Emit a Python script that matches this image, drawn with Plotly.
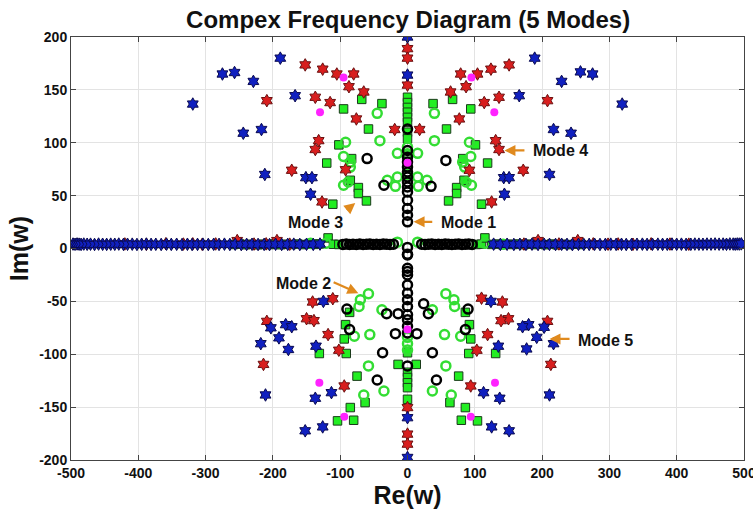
import plotly.graph_objects as go

# ---------------- data ----------------
# Mode 5 : blue hexagrams
m5_x = [-319, -275, -257, -229, -189, -167, -244, -217, -212, -151, -142, -144, 0, 0,
        189, 166, 229, 257, 275, 319, 217, 243, 211, 143, 151, 144,
        -125, -181, -172, -203, -191, -218, -177, -136, -113, -137, -211, -126, -152,
        124, 180, 171, 203, 192, 217, 177, 135, 113, 137, 211, 125, 151, 0, 0,
        -497, -494, -491, -488, -485, -481, -476, -471, -465, -459, -453, -447, -441, -435,
        -429, -422, -416, -409, -402, -395, -388, -381, -374, -366, -358, -351, -343, -335,
        -327, -320, -312, -304, -296, -288, -280, -272, -264, -256, -247, -239, -231, -222,
        -213, -205, -196, -187, -178, -169, -160, -150, -140, -130,
        128, 138, 148, 158, 167, 176, 185, 194, 203, 211, 220, 229, 237, 245,
        254, 262, 270, 278, 286, 294, 302, 310, 318, 325, 333, 341, 349, 356,
        364, 372, 379, 386, 393, 400, 407, 414, 421, 427, 433, 439, 445, 451,
        457, 463, 469, 474, 479, 484, 487, 490, 493, 496]
m5_y = [136.6, 165, 166.4, 158, 180, 144.5, 109, 112.5, 70, 67, 67, 51.3, 200, 164,
        180, 144.5, 158, 167, 165, 136.6, 112.5, 109, 70, 67, 67, 51.3,
        -50, -72, -74, -75, -84.5, -90, -95.5, -92.4, -136.3, -141.6, -138.5, -168.7, -172.4,
        -50, -72, -74, -74.5, -84, -90, -95, -92.4, -136.3, -141.6, -138.5, -168.7, -172.4, -160, -197.6,
        4.2, 4.0, 4.3, 4.1, 3.9, 4.2, 4.0, 4.1, 3.8, 4.2, 4.0, 3.9, 4.1, 4.0,
        4.2, 3.9, 4.0, 4.1, 3.8, 4.0, 4.2, 3.9, 4.0, 3.8, 4.1, 3.9, 4.0, 3.7,
        4.0, 3.8, 3.9, 4.1, 3.8, 4.0, 3.9, 4.1, 3.8, 4.0, 3.7, 3.9, 4.0, 3.8,
        3.9, 3.7, 4.0, 3.8, 3.9, 4.1, 3.8, 4.0, 3.9, 4.2,
        4.1, 3.9, 4.0, 3.8, 4.0, 3.9, 4.1, 3.8, 4.0, 3.9, 3.8, 4.0, 3.9, 3.7,
        4.0, 3.8, 3.9, 4.0, 3.8, 3.9, 4.1, 3.9, 4.0, 3.8, 3.9, 4.0, 4.1, 3.9,
        4.0, 4.1, 3.9, 4.0, 4.2, 4.0, 4.1, 3.9, 4.0, 4.2, 4.1, 4.0, 4.2, 4.1,
        4.3, 4.1, 4.2, 4.0, 4.3, 4.2, 4.1, 4.3, 4.2, 4.4]

# Mode 4 : red hexagrams
m4_x = [-152, -126, -105, -80, -87, -65, -137, -115, -76, -19, -132, -137, -172, -92, -127, -209,
        151, 124, 104, 79, 87, 64, 136, 114, 77, 18, 131, 136, 172, 92, 125, 208,
        0, 0, 0,
        -141, -111, -150, -139, -118, -102, -94, -209, -214,
        141, 110, 150, 139, 119, 103, 94, 208, 213,
        0, 0, 0,
        -420, -388, -359, -333, -319, -305, -285, -253, -228, -210, -194, -175,
        173, 194, 225, 253, 276, 298, 313, 335, 362, 390, 418]
m4_y = [173.6, 169.6, 165, 165, 153, 148, 143, 138, 122.5, 112.5, 102, 93.6, 74, 74.5, 44, 139.8,
        173.6, 169.6, 165, 165, 153, 148, 143, 138, 122.5, 112.5, 102, 93.6, 74, 74, 44, 139.8,
        189, 180, 154.5,
        -50.6, -47.5, -66.4, -68.2, -81.4, -96.2, -130, -68.9, -109.6,
        -50.6, -47, -66.4, -68.2, -81.4, -96.2, -130, -68.9, -109.6,
        -150.4, -175.5, -185,
        4.3, 4.0, 4.5, 4.2, 4.4, 4.0, 4.3, 7.5, 4.2, 4.4, 7.5, 4.1,
        4.2, 7.5, 4.3, 7.5, 4.4, 4.1, 4.3, 4.0, 4.4, 4.2, 4.1]

# Mode 3 : green squares
m3_x = [-68, -38, -95, -58, -102, -83, -120, -85, -73, -73, -61, -111,
        38, 67, 94, 58, 101, 82, 119, 84, 73, 73, 61, 110,
        0, 0, 0, 0, 0, 0, 0, 0,
        -86, -92, -94, -131, -91, -14, -75, -63, -85, -104, -80,
        86, 92, 94, 91, 131, 13, 76, 63, 86, 80, 104,
        0, 0, 0, 0, 0, 0,
        -258, -249, -240, -231, -222, -214, -205, -197, -188, -180, -172, -163,
        -155, -147, -139, -131, -118, -110, -102,
        102, 110, 115, 125, 133, 141, 149, 157, 165, 173, 181, 189, 197,
        205, 214, 222, 231, 240, 249, 258]
m3_y = [141, 137, 132, 113, 98, 85, 80.8, 64.5, 57.6, 52, 45, 41.9,
        137, 141, 132, 113, 98, 85, 80.8, 64.5, 57.6, 52, 45, 41.9,
        143, 138, 133.4, 128.9, 124, 119.4, 110, 103.7,
        -60.4, -72, -85.5, -99.3, -99.3, -109.6, -120.7, -145.7, -150.4, -163, -162.4,
        -60.4, -72, -85.5, -99.3, -99.3, -109.6, -120.7, -145.7, -150.4, -162.4, -163,
        -98.6, -117, -122, -127, -131.6, -142.6,
        3.8, 4.2, 3.6, 4.0, 3.5, 4.1, 3.7, 4.3, 3.6, 4.0, 3.8, 4.2,
        3.7, 4.1, 3.9, 4.3, 10, 4.0, 3.8,
        3.8, 4.1, 10, 3.9, 4.2, 3.7, 4.0, 3.8, 4.2, 3.6, 4.1, 3.7, 4.0,
        3.6, 4.2, 3.5, 4.0, 3.7, 4.1, 3.8]

# Mode 2 : green open circles
m2_x = [-45, -41, -92, -95, -85, -85, -95, -88, -30, -15, -18, -15,
        40, 40, 92, 94, 82, 85, 95, 87, 29, 15, 16, 15,
        0, 0, 0,
        -58, -70, -72, -38, -79, -56, -58, -65, -35,
        57, 69, 70, 37, 79, 55, 57, 65, 37,
        0, 0, 0,
        -144, -121, -15, 15, 115, 142]
m2_y = [127.8, 102, 100.5, 87, 81.7, 77, 59.8, 62.9, 64.5, 67.6, 58.8, 90,
        127.8, 102, 100.5, 87, 81.7, 77, 59.8, 62.9, 64.5, 67.6, 58.8, 90,
        96, 89.6, 70,
        -42.8, -48.5, -54.8, -57.9, -83, -81.4, -111, -138.5, -134.8,
        -42.8, -48.5, -54.8, -57.9, -83, -81.4, -111, -138.5, -134.8,
        -84, -90, -96,
        5, 5, 6, 6, 5, 4]

# Mode 1 : black open circles
m1_x = [-60, -35, 57, 35,
        0, 0, 0, 0, 0, 0, 0, 0, 0, 0, 0, 0, 0, 0,
        -90, -86, -31, -14, -18, -37, -45, 24, 14, 90, 86, 37, 43, 31,
        0, 0, 0, 0, 0, 0, 0, 0, 0, 0, 0, 0, 0,
        -96, -91, -86, -81, -76, -71, -66, -61, -56, -51, -46, -41, -36, -31, -26, -21,
        21, 26, 31, 36, 41, 46, 51, 56, 61, 66, 71, 76, 81, 86, 91, 96,
        0, 0]
m1_y = [85, 59.8, 83.3, 58.8,
        113, 92.7, 86.4, 81.7, 77, 72.3, 67.6, 62.9, 58.2, 53.5, 45.6, 37.8, 31.5, 25.2,
        -57.3, -76.7, -61.6, -61.6, -80.5, -98.6, -124.4, -52.2, -80.5, -57.3, -76.7, -98.6, -124.4, -61.6,
        -6.1, -18.7, -21.8, -25, -34.4, -42.2, -48.5, -54.8, -62.6, -67.3, -73.6, -79.8, -111,
        3.9, 4.2, 3.8, 4.1, 3.9, 4.3, 3.8, 4.0, 4.2, 3.9, 4.1, 3.8, 4.2, 4.0, 3.9, 4.1,
        4.1, 3.9, 4.0, 4.2, 3.8, 4.1, 3.9, 4.2, 4.0, 3.8, 4.1, 4.3, 3.9, 4.0, 4.2, 3.9,
        1.0, -5.5]

# extra magenta points
mg_x = [-95, 95, -130, 129, 0, -131, 130, -94, 94, 0]
mg_y = [161.7, 161.7, 128.8, 128.8, 81, -127, -127, -159.2, -159.2, -76.7]

# annotations: label, text position, arrow tail, arrow tip
ann_labels = ["Mode 1", "Mode 2", "Mode 3", "Mode 4", "Mode 5"]
ann_text_xy = [(90, 25), (-155, -33), (-137, 25), (228, 92.7), (294, -87)]
ann_tail_xy = [(39, 25.2), (-112, -31.2), (-92.5, 35.3), (176, 92.7), (243, -85.5)]
ann_tip_xy = [(9, 25.2), (-73, -42.2), (-77.6, 43.1), (144, 92.7), (211, -85.5)]

x_ticks = [-500, -400, -300, -200, -100, 0, 100, 200, 300, 400, 500]
y_ticks = [-200, -150, -100, -50, 0, 50, 100, 150, 200]

# ---------------- figure ----------------
fig = go.Figure()

fig.add_trace(go.Scatter(x=m3_x, y=m3_y, mode="markers", name="Mode 3",
                         marker=dict(symbol="square", size=8.5, color="#22EE22",
                                     line=dict(color="#1a3a1a", width=1))))
fig.add_trace(go.Scatter(x=m2_x, y=m2_y, mode="markers", name="Mode 2",
                         marker=dict(symbol="circle-open", size=9, color="#33DD33",
                                     line=dict(color="#33DD33", width=2.5))))
fig.add_trace(go.Scatter(x=m1_x, y=m1_y, mode="markers", name="Mode 1",
                         marker=dict(symbol="circle-open", size=9, color="#000000",
                                     line=dict(color="#000000", width=2.5))))
fig.add_trace(go.Scatter(x=m4_x, y=m4_y, mode="markers", name="Mode 4",
                         marker=dict(symbol="hexagram", size=9.5, color="#D81E1E",
                                     line=dict(color="#6a1010", width=1))))
fig.add_trace(go.Scatter(x=m5_x, y=m5_y, mode="markers", name="Mode 5",
                         marker=dict(symbol="hexagram", size=9.5, color="#1020C0",
                                     line=dict(color="#0a0a50", width=1))))
fig.add_trace(go.Scatter(x=mg_x, y=mg_y, mode="markers", name="extra",
                         marker=dict(symbol="circle", size=8, color="#FF22FF",
                                     line=dict(width=0))))

annotations = []
for lab, (tx, ty), (ax_, ay_), (hx, hy) in zip(ann_labels, ann_text_xy, ann_tail_xy, ann_tip_xy):
    annotations.append(dict(x=tx, y=ty, xref="x", yref="y", text="<b>%s</b>" % lab,
                            showarrow=False, xanchor="center", yanchor="middle",
                            font=dict(family="Liberation Sans", size=16, color="#111111")))
    annotations.append(dict(x=hx, y=hy, ax=ax_, ay=ay_, xref="x", yref="y",
                            axref="x", ayref="y", text="", showarrow=True,
                            arrowhead=2, arrowsize=1, arrowwidth=2.2,
                            arrowcolor="#E08A1E", standoff=0, startstandoff=0))

fig.update_layout(
    width=753, height=509,
    margin=dict(l=71, r=9, t=37, b=49, autoexpand=False),
    paper_bgcolor="white", plot_bgcolor="white",
    showlegend=False,
    title=dict(text="<b>Compex Frequency Diagram (5 Modes)</b>",
               x=0.542, xanchor="center", y=0.962, yanchor="middle",
               font=dict(family="Liberation Sans", size=24, color="#111111")),
    annotations=annotations,
    font=dict(family="Liberation Sans", color="#111111"),
)
fig.update_xaxes(range=[-500, 500], tickvals=x_ticks, ticktext=["<b>%d</b>" % v for v in x_ticks],
                 showgrid=True, gridcolor="#E3E3E3", gridwidth=1, zeroline=False,
                 showline=True, linecolor="#444444", linewidth=1, mirror="ticks",
                 ticks="inside", ticklen=5, tickcolor="#444444", ticklabeloverflow="allow",
                 tickfont=dict(family="Liberation Sans", size=14, color="#111111"),
                 title=dict(text="<b>Re(w)</b>", standoff=3,
                            font=dict(family="Liberation Sans", size=25, color="#111111")))
fig.update_yaxes(range=[-200, 200], tickvals=y_ticks, ticktext=["<b>%d</b>" % v for v in y_ticks],
                 showgrid=True, gridcolor="#E3E3E3", gridwidth=1, zeroline=False,
                 showline=True, linecolor="#444444", linewidth=1, mirror="ticks",
                 ticks="inside", ticklen=5, tickcolor="#444444", ticklabeloverflow="allow",
                 tickfont=dict(family="Liberation Sans", size=14, color="#111111"),
                 title=dict(text="<b>Im(w)</b>", standoff=3,
                            font=dict(family="Liberation Sans", size=25, color="#111111")))

fig.write_html("out.html", config={"displayModeBar": False},
               post_script="document.body.style.margin='0px';")
